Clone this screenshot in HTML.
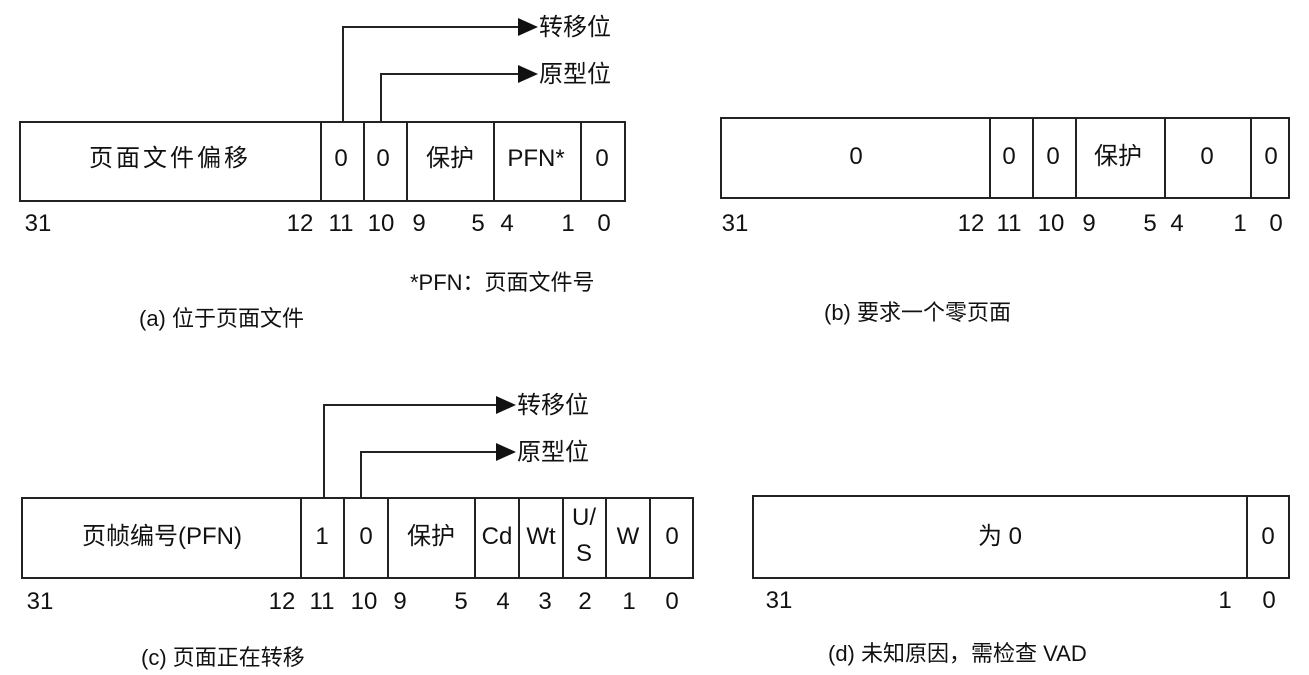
<!DOCTYPE html>
<html><head><meta charset="utf-8"><style>
html,body{margin:0;padding:0;background:#fff;}
svg{display:block;}
text{font-family:"Liberation Sans","Noto Sans CJK SC",sans-serif;fill:#111;}
</style></head><body>
<svg width="1309" height="675" viewBox="0 0 1309 675" xmlns="http://www.w3.org/2000/svg">
<g stroke="#222" stroke-width="2" fill="none">
<!-- (a) -->
<rect x="20" y="122" width="605" height="79"/>
<path d="M321 122V201M364 122V201M407 122V201M494 122V201M581 122V201"/>
<path d="M343 122V27H522M381 122V74H522"/>
<!-- (b) -->
<rect x="721" y="118" width="568" height="80"/>
<path d="M990 118V198M1033 118V198M1076 118V198M1165 118V198M1251 118V198"/>
<!-- (c) -->
<rect x="22" y="498" width="671" height="80"/>
<path d="M301 498V578M344 498V578M388 498V578M475 498V578M519 498V578M563 498V578M606 498V578M650 498V578"/>
<path d="M324 498V405H500M361 498V452H500"/>
<!-- (d) -->
<rect x="753" y="496" width="536" height="82"/>
<path d="M1247 496V578"/>
</g>
<g fill="#111">
<polygon points="518,18 538,27 518,36"/>
<polygon points="518,65 538,74 518,83"/>
<polygon points="496,396 516,405 496,414"/>
<polygon points="496,443 516,452 496,461"/>
</g>
<g font-size="24">
<text x="539" y="35">转移位</text>
<text x="539" y="82">原型位</text>
<text x="517" y="413">转移位</text>
<text x="517" y="460">原型位</text>
</g>
<g font-size="24" text-anchor="middle">
<!-- (a) box text -->
<text x="170" y="166" letter-spacing="3">页面文件偏移</text>
<text x="341" y="166">0</text><text x="383" y="166">0</text>
<text x="450" y="166">保护</text><text x="536" y="166">PFN*</text><text x="602" y="166">0</text>
<!-- (a) bits -->
<text x="38" y="231">31</text><text x="300" y="231">12</text><text x="341" y="231">11</text>
<text x="381" y="231">10</text><text x="419" y="231">9</text><text x="478" y="231">5</text>
<text x="507" y="231">4</text><text x="568" y="231">1</text><text x="604" y="231">0</text>
<!-- (b) -->
<text x="856" y="164">0</text><text x="1009" y="164">0</text><text x="1053" y="164">0</text>
<text x="1118" y="164">保护</text><text x="1207" y="164">0</text><text x="1271" y="164">0</text>
<text x="735" y="231">31</text><text x="971" y="231">12</text><text x="1009" y="231">11</text>
<text x="1051" y="231">10</text><text x="1089" y="231">9</text><text x="1150" y="231">5</text>
<text x="1177" y="231">4</text><text x="1240" y="231">1</text><text x="1276" y="231">0</text>
<!-- (c) -->
<text x="162" y="544">页帧编号(PFN)</text>
<text x="322" y="544">1</text><text x="366" y="544">0</text><text x="431" y="544">保护</text>
<text x="497" y="544">Cd</text><text x="541" y="544">Wt</text>
<text x="584" y="525">U/</text><text x="584" y="561">S</text>
<text x="628" y="544">W</text><text x="672" y="544">0</text>
<text x="40" y="609">31</text><text x="282" y="609">12</text><text x="322" y="609">11</text>
<text x="364" y="609">10</text><text x="400" y="609">9</text><text x="461" y="609">5</text>
<text x="503" y="609">4</text><text x="545" y="609">3</text><text x="585" y="609">2</text>
<text x="629" y="609">1</text><text x="672" y="609">0</text>
<!-- (d) -->
<text x="1000" y="544">为 0</text><text x="1268" y="544">0</text>
<text x="779" y="608">31</text><text x="1225" y="608">1</text><text x="1269" y="608">0</text>
</g>
<g font-size="22">
<text x="410" y="290">*PFN：页面文件号</text>
<text x="139" y="326">(a) 位于页面文件</text>
<text x="824" y="320">(b) 要求一个零页面</text>
<text x="141" y="665">(c) 页面正在转移</text>
<text x="828" y="661">(d) 未知原因，需检查 VAD</text>
</g>
</svg>
</body></html>
